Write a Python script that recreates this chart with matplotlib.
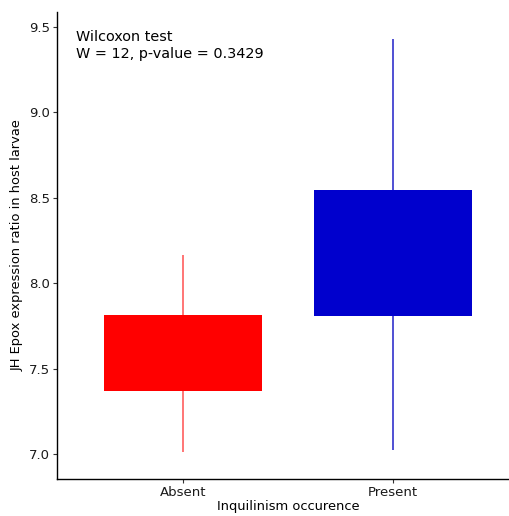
import numpy as np
import matplotlib.pyplot as plt

groups = ["Absent", "Present"]
whisk_lo = [7.012, 7.023]
q1 = [7.369, 7.808]
q3 = [7.814, 8.546]
whisk_hi = [8.165, 9.43]
fills = ["#FF0000", "#0000CD"]
line_cols = ["#FF5050", "#2020C8"]

fig = plt.figure(figsize=(5.09, 5.16), dpi=100)
# panel runs slightly past the right edge, as in the original export
ax = fig.add_axes([57/509, 37/516, (519 - 57)/509, (479 - 12)/516])

x = np.arange(1, len(groups) + 1)
ax.vlines(x, whisk_lo, whisk_hi, colors=line_cols, linewidth=1.1, zorder=1)
ax.bar(x, np.array(q3) - np.array(q1), bottom=q1, width=0.757,
       color=fills, edgecolor="none", zorder=2)

ax.set_xlim(0.4, 2.6)
ax.set_ylim(6.854, 9.588)
ax.set_xticks(x)
ax.set_xticklabels(groups)
ax.set_yticks([7.0, 7.5, 8.0, 8.5, 9.0, 9.5])
ax.set_yticklabels(["7.0", "7.5", "8.0", "8.5", "9.0", "9.5"])
ax.tick_params(length=3, width=0.8, color="#333333", labelsize=9.5,
               labelcolor="#1a1a1a", pad=2)

ax.spines['right'].set_visible(False)
ax.spines['top'].set_visible(False)
for s in ['left', 'bottom']:
    ax.spines[s].set_linewidth(1.0)
    ax.spines[s].set_color("black")

ax.set_xlabel("Inquilinism occurence", fontsize=9.4, labelpad=1)
ax.set_ylabel("JH Epox expression ratio in host larvae", fontsize=9.4, labelpad=4)

ax.text(0.49, 9.48, "Wilcoxon test\nW = 12, p-value = 0.3429", fontsize=10.4,
        va="top", ha="left", color="black", linespacing=1.2)

fig.savefig("out.png", dpi=100)
